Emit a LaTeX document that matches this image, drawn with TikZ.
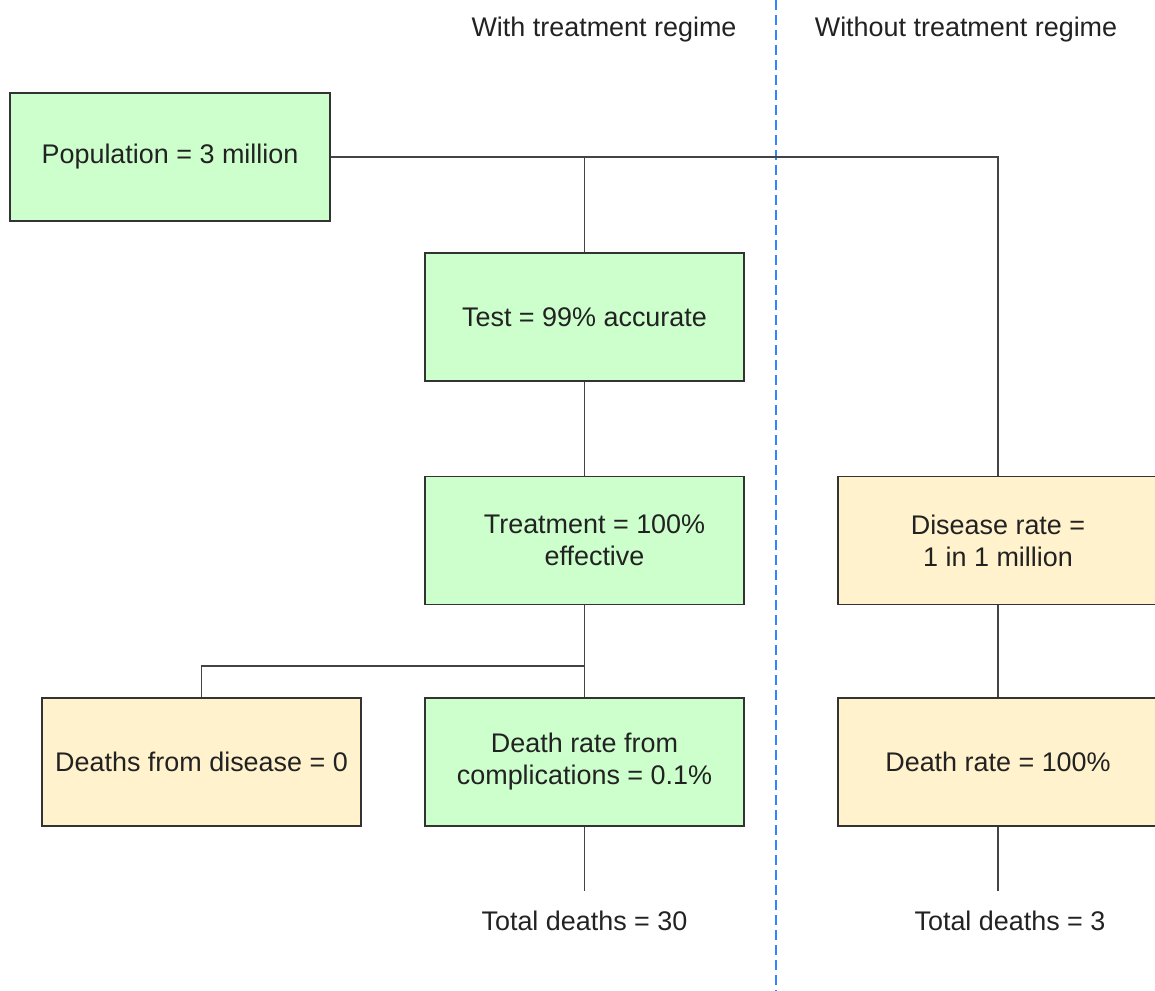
\documentclass[tikz,border=0pt]{standalone}
\usepackage{fontspec}
\setmainfont{Liberation Sans}
\definecolor{boxgreen}{HTML}{CCFFCC}
\definecolor{boxorange}{HTML}{FFF2CC}
\definecolor{edgegray}{HTML}{333333}
\definecolor{linegray}{HTML}{444444}
\definecolor{txtcol}{HTML}{222222}
\definecolor{divblue}{HTML}{3385FF}
\begin{document}
\begin{tikzpicture}[x=0.75pt,y=-0.75pt,
  box/.style={draw=edgegray,line width=1.4pt,minimum width=239.5pt,minimum height=96pt,inner sep=0pt,align=center,font=\fontsize{20.2pt}{24pt}\selectfont,text=txtcol},
  gbox/.style={box,fill=boxgreen},
  obox/.style={box,fill=boxorange},
  conn/.style={draw=linegray,line width=1.1pt},
  lbl/.style={font=\fontsize{20.2pt}{24pt}\selectfont,text=txtcol,inner sep=0pt}]
\useasboundingbox (0,0) rectangle (1155,991);
% divider
\draw[divblue,line width=1.2pt,dash pattern=on 7.5pt off 3.75pt] (776,0) -- (776,991);
% nodes
\node[gbox] (pop) at (170,157) {Population = 3 million};
\node[gbox] (test) at (584.5,317) {Test = 99\% accurate};
\node[gbox] (treat) at (584.5,540.5) {\hspace*{15pt}Treatment = 100\%\\\hspace*{15pt}effective};
\node[obox] (dfd) at (201.5,762) {Deaths from disease = 0};
\node[gbox] (comp) at (584.5,762) {Death rate from\\complications = 0.1\%};
\node[obox] (dis) at (998,540.5) {Disease rate =\\1 in 1 million};
\node[obox] (dr) at (998,762) {Death rate = 100\%};
% labels
\node[lbl] (hw) at (604,30) {With treatment regime};
\node[lbl] (hwo) at (966,30) {Without treatment regime};
\node[lbl] (t1) at (584.5,921) {Total deaths = 30};
\node[lbl] (t2) at (1010,921) {Total deaths = 3};
% coordinates
\coordinate (j1) at (test.north |- pop.east);
\path (comp.north) ++(0,-31) coordinate (j2);
\path (comp.south) ++(0,64) coordinate (e1);
\path (dr.south) ++(0,64) coordinate (e2);
% connectors
\draw[conn] (pop.east) -| (dis.north);
\draw[conn] (j1) -- (test.north);
\draw[conn] (test.south) -- (treat.north);
\draw[conn] (treat.south) -- (comp.north);
\draw[conn] (j2) -| (dfd.north);
\draw[conn] (comp.south) -- (e1);
\draw[conn] (dis.south) -- (dr.north);
\draw[conn] (dr.south) -- (e2);
\end{tikzpicture}
\end{document}
